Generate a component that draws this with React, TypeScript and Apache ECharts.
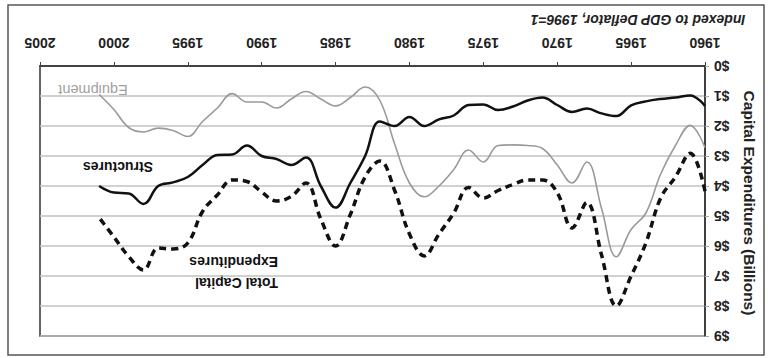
import React, { useEffect, useRef } from "react";
import * as echarts from "echarts";

const years = [
  1960, 1961, 1962, 1963, 1964, 1965, 1966, 1967, 1968, 1969,
  1970, 1971, 1972, 1973, 1974, 1975, 1976, 1977, 1978, 1979,
  1980, 1981, 1982, 1983, 1984, 1985, 1986, 1987, 1988, 1989,
  1990, 1991, 1992, 1993, 1994, 1995, 1996, 1997, 1998, 1999,
  2000, 2001,
];

const equipment = [
  2.72, 1.98, 2.65, 3.6, 4.9, 5.45, 6.36, 4.75, 3.2, 3.9,
  3.3, 2.75, 2.65, 2.63, 2.65, 3.2, 2.8, 3.45, 4.0, 4.36,
  3.9, 2.6, 1.15, 0.7, 1.05, 1.33, 1.1, 0.85, 1.1, 1.4,
  1.2, 1.2, 0.92, 1.4, 1.85, 2.35, 2.15, 2.07, 2.2, 2.05,
  1.45, 0.95,
];

const structures = [
  1.33, 0.98, 1.05, 1.1, 1.18, 1.31, 1.67, 1.58, 1.42, 1.53,
  1.3, 1.05, 1.15, 1.35, 1.47, 1.28, 1.3, 1.65, 1.78, 2.0,
  1.7, 2.0, 1.85, 3.0, 3.9, 4.72, 4.0, 3.05, 3.3, 3.1,
  3.0, 2.65, 2.95, 2.97, 3.3, 3.7, 3.88, 4.0, 4.6, 4.25,
  4.22, 4.0,
];

const totalCapital = [
  4.17, 2.91, 3.7, 4.4, 5.9, 7.0, 8.0, 6.3, 4.55, 5.4,
  4.22, 3.8, 3.8, 3.95, 4.15, 4.4, 4.05, 4.9, 5.6, 6.33,
  5.6, 4.15, 3.17, 3.7, 4.95, 6.0, 5.1, 3.9, 4.35, 4.5,
  4.2, 3.85, 3.8, 4.3, 4.85, 5.9, 6.1, 6.07, 6.8, 6.35,
  5.7, 5.05,
];

const yTickLabels = ["$0", "$1", "$2", "$3", "$4", "$5", "$6", "$7", "$8", "$9"];

const toPairs = (vals: number[]) => years.map((y, i) => [y, vals[i]]);

export default function App() {
  const ref = useRef<HTMLDivElement>(null);

  useEffect(() => {
    if (!ref.current) return;
    const chart = echarts.init(ref.current, null, { renderer: "svg" });
    const font = "Arial, 'Liberation Sans', Helvetica, sans-serif";
    chart.setOption({
      animation: false,
      backgroundColor: "#ffffff",
      textStyle: { fontFamily: font },
      grid: {
        left: 40,
        right: 65,
        top: 66,
        bottom: 22,
        show: true,
        borderColor: "#333",
        borderWidth: 1.5,
        backgroundColor: "transparent",
      },
      xAxis: {
        type: "value",
        position: "top",
        inverse: true,
        min: 1960,
        max: 2005,
        interval: 5,
        axisLine: { show: true, lineStyle: { color: "#222", width: 1.5 } },
        axisTick: { show: true, length: 4, lineStyle: { color: "#444" } },
        splitLine: { show: false },
        axisLabel: {
          rotate: 180,
          margin: 16,
          fontSize: 14,
          fontWeight: "bold",
          color: "#222",
          fontFamily: font,
          formatter: (v: number) => String(v),
        },
      },
      yAxis: {
        type: "value",
        position: "right",
        inverse: true,
        min: 0,
        max: 9,
        interval: 1,
        axisLine: { show: true, lineStyle: { color: "#333", width: 1.5 } },
        axisTick: { show: true, length: 4, lineStyle: { color: "#aaa" } },
        splitLine: { show: true, lineStyle: { color: "#c2c2c2", width: 1.5 } },
        axisLabel: {
          rotate: 180,
          margin: 9,
          fontSize: 14,
          fontWeight: "bold",
          color: "#222",
          fontFamily: font,
          formatter: (v: number) => yTickLabels[Math.round(v)],
        },
      },
      series: [
        {
          name: "Equipment",
          type: "line",
          data: toPairs(equipment),
          smooth: 0.4,
          symbol: "none",
          lineStyle: { color: "#9a9a9a", width: 1.6 },
        },
        {
          name: "Structures",
          type: "line",
          data: toPairs(structures),
          smooth: 0.4,
          symbol: "none",
          lineStyle: { color: "#111", width: 2.5 },
        },
        {
          name: "Total Capital Expenditures",
          type: "line",
          data: toPairs(totalCapital),
          smooth: 0.4,
          symbol: "none",
          lineStyle: { color: "#111", width: 3.5, type: [7, 5] },
        },
      ],
      graphic: [
        {
          type: "rect",
          shape: { x: 8, y: 5, width: 756, height: 350 },
          style: { fill: "none", stroke: "#555", lineWidth: 1.5 },
          silent: true,
        },
        {
          type: "text",
          x: 638,
          y: 20,
          rotation: Math.PI,
          style: {
            text: "Indexed to GDP Deflator, 1996=1",
            fontSize: 14,
            fontWeight: "bold",
            fontStyle: "italic",
            fontFamily: font,
            fill: "#222",
            textAlign: "center",
            textVerticalAlign: "middle",
          },
        },
        {
          type: "text",
          x: 749,
          y: 203,
          rotation: -Math.PI / 2,
          style: {
            text: "Capital Expenditures (Billions)",
            fontSize: 15.5,
            fontWeight: "bold",
            fontFamily: font,
            fill: "#222",
            textAlign: "center",
            textVerticalAlign: "middle",
          },
        },
        {
          type: "text",
          x: 93,
          y: 90,
          rotation: Math.PI,
          style: {
            text: "Equipment",
            fontSize: 14.5,
            fontFamily: font,
            fill: "#a0a0a0",
            textAlign: "center",
            textVerticalAlign: "middle",
          },
        },
        {
          type: "text",
          x: 118,
          y: 167,
          rotation: Math.PI,
          style: {
            text: "Structures",
            fontSize: 14,
            fontWeight: "bold",
            fontFamily: font,
            fill: "#111",
            textAlign: "center",
            textVerticalAlign: "middle",
          },
        },
        {
          type: "text",
          x: 278,
          y: 293,
          rotation: Math.PI,
          style: {
            text: "Total Capital\nExpenditures",
            fontSize: 14,
            lineHeight: 21,
            fontWeight: "bold",
            fontFamily: font,
            fill: "#111",
            textAlign: "left",
            textVerticalAlign: "top",
          },
        },
      ],
    });
    return () => chart.dispose();
  }, []);

  return (
    <div
      ref={ref}
      style={{ position: "fixed", left: 0, top: 0, width: 770, height: 358 }}
    />
  );
}
